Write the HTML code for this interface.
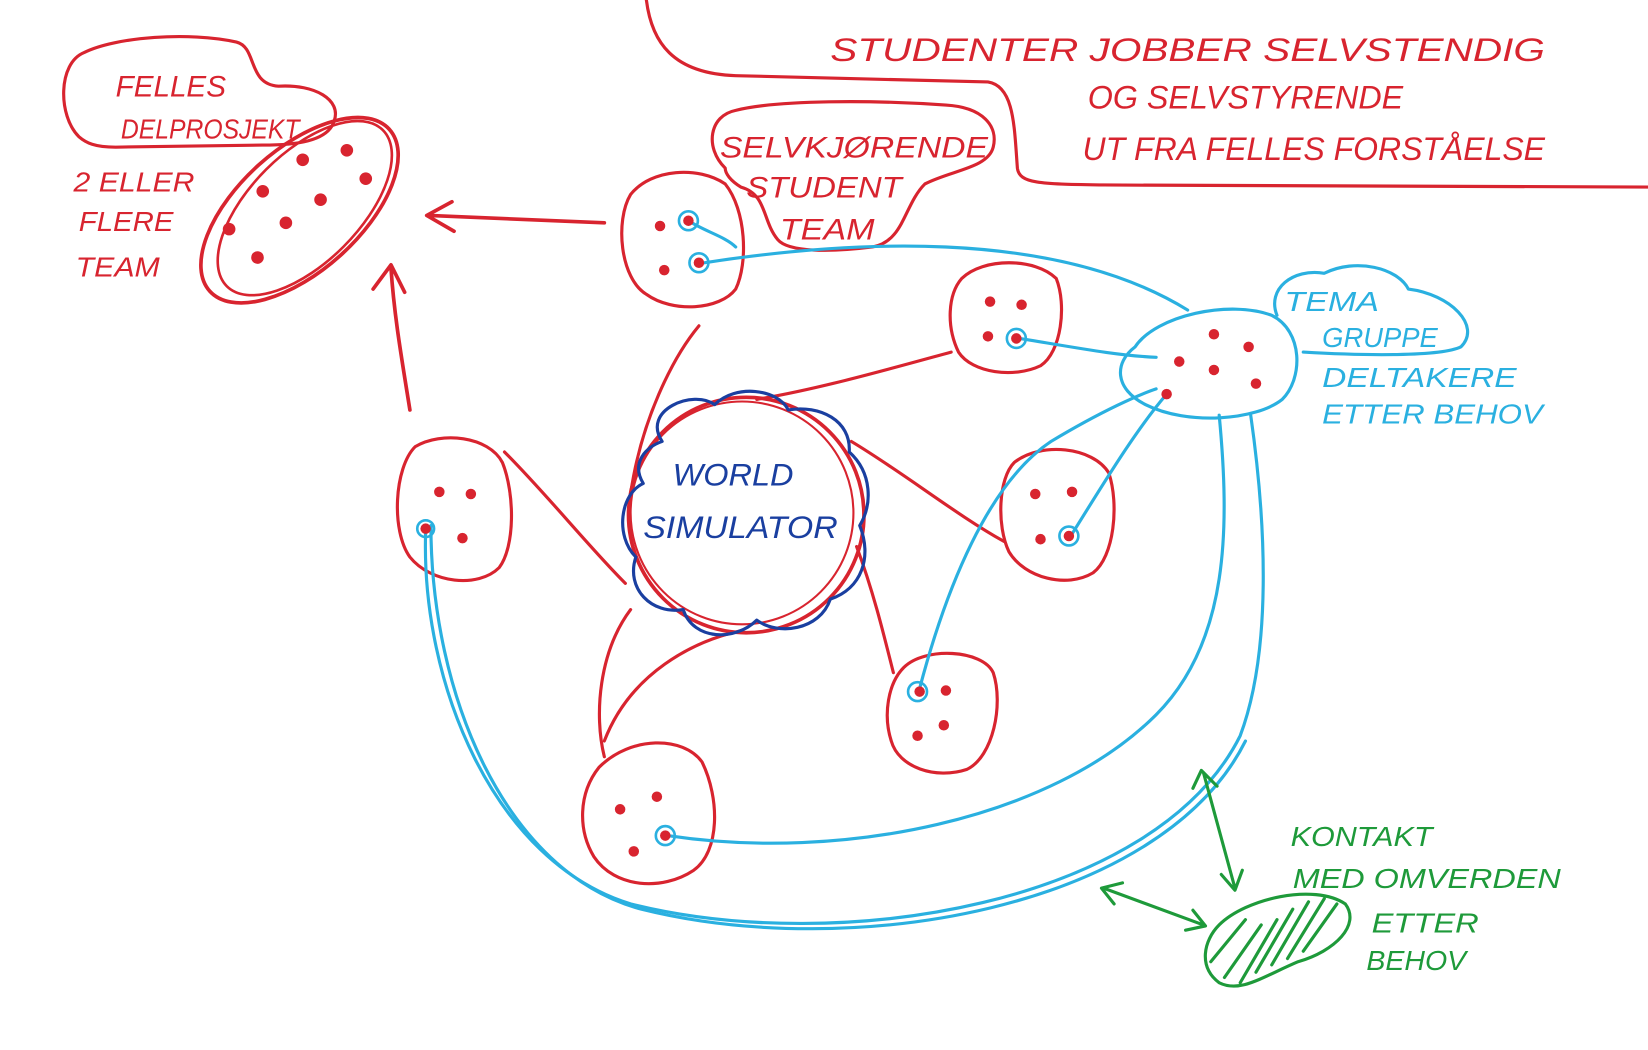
<!DOCTYPE html>
<html><head><meta charset="utf-8"><style>
html,body{margin:0;padding:0;background:#fff;}
svg{display:block;}
text{font-family:"Liberation Sans",sans-serif;font-style:italic;}
</style></head><body>
<svg width="1648" height="1050" viewBox="0 0 1568 999" preserveAspectRatio="none" xmlns="http://www.w3.org/2000/svg">
<rect width="1568" height="999" fill="#fff"/>
<g fill="none" stroke-linecap="round" stroke-linejoin="round">
<!-- top red frame line -->
<path d="M615,0 C620,40 640,70 700,72 L940,78 C965,82 965,120 968,160 C970,175 990,175 1050,176 L1568,178" stroke="#d8242f" stroke-width="3"/>
<!-- felles delprosjekt bubble -->
<path d="M75,130 C55,110 55,60 80,50 C110,35 180,30 225,40 C245,45 235,80 265,82 C300,80 325,95 318,115 C312,135 280,138 250,138 L110,140 C90,140 82,136 75,130 Z" stroke="#d8242f" stroke-width="3"/>
<!-- oval -->
<ellipse cx="285" cy="200" rx="115" ry="58" transform="rotate(-42 285 200)" stroke="#d8242f" stroke-width="3.5"/>
<ellipse cx="290" cy="198" rx="105" ry="52" transform="rotate(-45 290 198)" stroke="#d8242f" stroke-width="2.5"/>
<!-- arrows -->
<path d="M575,212 L408,205 M430,192 L406,205 L432,220" stroke="#d8242f" stroke-width="3.5"/>
<path d="M390,390 C382,340 375,300 372,255 M355,275 L372,252 L385,278" stroke="#d8242f" stroke-width="3.5"/>
<!-- red connectors -->
<g stroke="#d8242f" stroke-width="3">
<path d="M600,470 C610,400 640,340 665,310"/>
<path d="M720,380 C780,370 850,350 905,335"/>
<path d="M810,420 C860,450 910,490 955,515"/>
<path d="M815,520 C830,560 840,600 850,640"/>
<path d="M600,580 C570,620 565,680 575,720"/>
<path d="M595,555 C560,520 520,470 480,430"/>
<path d="M705,600 C660,610 600,640 575,705"/>
</g>
<!-- world simulator -->
<circle cx="710" cy="490" r="112" stroke="#d8242f" stroke-width="3.5"/>
<circle cx="706" cy="488" r="106" stroke="#d8242f" stroke-width="2"/>
<path d="M630,420 C610,390 660,370 680,385 C700,365 740,370 750,390 C780,385 810,400 808,430 C830,450 830,480 818,500 C830,530 820,560 790,570 C780,600 740,605 720,590 C700,610 660,610 650,580 C620,585 595,560 605,530 C585,510 590,470 612,460 C600,440 615,425 630,420 Z" stroke="#1a3fa0" stroke-width="3"/>
<!-- team blobs -->
<g stroke="#d8242f" stroke-width="3">
<path d="M600,185 C620,160 665,158 690,175 C710,200 712,250 700,275 C685,295 640,298 615,280 C590,265 585,210 600,185 Z"/>
<path d="M915,265 C935,245 985,245 1005,265 C1015,290 1010,335 990,348 C965,360 925,355 912,335 C900,310 902,280 915,265 Z"/>
<path d="M395,425 C420,410 465,415 478,440 C490,470 490,520 475,540 C455,560 410,555 390,530 C372,505 375,445 395,425 Z"/>
<path d="M965,440 C990,420 1040,425 1055,450 C1065,480 1060,530 1040,545 C1015,560 975,550 960,525 C948,500 950,455 965,440 Z"/>
<path d="M860,635 C880,615 935,618 945,640 C955,670 945,720 920,732 C890,742 855,730 848,705 C840,680 845,650 860,635 Z"/>
<path d="M570,730 C600,700 650,700 668,725 C685,760 685,810 660,828 C630,848 585,845 565,815 C550,790 550,755 570,730 Z"/>
</g>
<!-- selvkjørende cloud -->
<path d="M690,160 C670,140 675,110 700,105 C740,95 830,95 900,100 C935,102 950,120 945,140 C940,160 905,162 880,175 C860,195 860,230 830,235 C790,240 750,240 740,228 C725,210 730,185 705,178 C695,172 690,165 690,160 Z" stroke="#d8242f" stroke-width="3"/>
<!-- tema gruppe blob -->
<path d="M1080,330 C1100,300 1170,285 1210,300 C1240,315 1240,360 1220,380 C1195,400 1130,405 1090,385 C1060,370 1060,345 1080,330 Z" stroke="#2ab0e0" stroke-width="3"/>
<path d="M1215,300 C1205,275 1230,255 1260,260 C1290,245 1330,255 1340,275 C1380,280 1410,310 1390,330 C1370,340 1290,338 1240,335" stroke="#2ab0e0" stroke-width="3"/>
<!-- blue connectors -->
<g stroke="#2ab0e0" stroke-width="3">
<path d="M655,210 C670,220 690,225 700,235"/>
<path d="M670,250 C800,230 1000,215 1130,295"/>
<path d="M970,322 C1020,330 1060,338 1100,340"/>
<path d="M1020,508 C1050,460 1080,410 1110,375"/>
<path d="M875,655 C900,560 940,460 1000,420 C1050,390 1085,375 1100,370"/>
<path d="M635,795 C800,820 1000,780 1100,680 C1170,610 1170,500 1160,395"/>
<path d="M405,505 C400,650 470,820 600,860 C800,910 1100,860 1180,700 C1210,620 1205,500 1190,395"/>
<path d="M410,500 C410,660 480,830 610,865 C810,915 1105,865 1185,705"/>
</g>
<g stroke="#2ab0e0" stroke-width="2.5">
<circle cx="655" cy="210" r="9"/><circle cx="665" cy="250" r="9"/><circle cx="967" cy="322" r="9"/>
<circle cx="405" cy="503" r="8"/><circle cx="1017" cy="510" r="9"/><circle cx="873" cy="658" r="9"/><circle cx="633" cy="795" r="9"/>
</g>
<!-- green -->
<g stroke="#1e9a3a" stroke-width="3">
<path d="M1145,735 L1175,845 M1135,750 L1143,733 L1158,748 M1162,832 L1175,847 L1182,828"/>
<path d="M1050,845 L1145,880 M1060,860 L1048,845 L1068,840 M1128,885 L1147,881 L1135,866"/>
<path d="M1160,880 C1185,855 1250,840 1280,860 C1295,880 1270,905 1235,915 C1200,930 1180,945 1160,935 C1140,920 1145,895 1160,880 Z"/>
<path d="M1165,930 L1200,880 M1180,935 L1215,875 M1195,925 L1230,865 M1210,918 L1245,858 M1225,912 L1260,855 M1240,905 L1272,860 M1152,915 L1185,875"/>
</g>
</g>
<!-- red dots -->
<g fill="#d8242f">
<circle cx="250" cy="182" r="6"/><circle cx="288" cy="152" r="6"/><circle cx="330" cy="143" r="6"/><circle cx="218" cy="218" r="6"/><circle cx="272" cy="212" r="6"/><circle cx="305" cy="190" r="6"/><circle cx="348" cy="170" r="6"/><circle cx="245" cy="245" r="6"/>
<circle cx="628" cy="215" r="5"/><circle cx="655" cy="210" r="5"/><circle cx="632" cy="257" r="5"/><circle cx="665" cy="250" r="5"/>
<circle cx="942" cy="287" r="5"/><circle cx="972" cy="290" r="5"/><circle cx="940" cy="320" r="5"/><circle cx="967" cy="322" r="5"/>
<circle cx="418" cy="468" r="5"/><circle cx="448" cy="470" r="5"/><circle cx="405" cy="503" r="5"/><circle cx="440" cy="512" r="5"/>
<circle cx="985" cy="470" r="5"/><circle cx="1020" cy="468" r="5"/><circle cx="990" cy="513" r="5"/><circle cx="1017" cy="510" r="5"/>
<circle cx="875" cy="658" r="5"/><circle cx="900" cy="657" r="5"/><circle cx="873" cy="700" r="5"/><circle cx="898" cy="690" r="5"/>
<circle cx="590" cy="770" r="5"/><circle cx="625" cy="758" r="5"/><circle cx="603" cy="810" r="5"/><circle cx="633" cy="795" r="5"/>
<circle cx="1155" cy="318" r="5"/><circle cx="1188" cy="330" r="5"/><circle cx="1122" cy="344" r="5"/><circle cx="1155" cy="352" r="5"/><circle cx="1195" cy="365" r="5"/><circle cx="1110" cy="375" r="5"/>
</g>
<!-- texts -->
<g fill="#d8242f" font-size="31">
<text x="790" y="58" textLength="680" lengthAdjust="spacingAndGlyphs">STUDENTER  JOBBER SELVSTENDIG</text>
<text x="1035" y="103" textLength="300" lengthAdjust="spacingAndGlyphs">OG  SELVSTYRENDE</text>
<text x="1030" y="152" textLength="440" lengthAdjust="spacingAndGlyphs">UT FRA FELLES FORSTÅELSE</text>
<text x="110" y="92" font-size="28" textLength="105" lengthAdjust="spacingAndGlyphs">FELLES</text>
<text x="115" y="132" font-size="26" textLength="170" lengthAdjust="spacingAndGlyphs">DELPROSJEKT</text>
<text x="70" y="182" font-size="26" textLength="115" lengthAdjust="spacingAndGlyphs">2 ELLER</text>
<text x="75" y="220" font-size="26" textLength="90" lengthAdjust="spacingAndGlyphs">FLERE</text>
<text x="72" y="263" font-size="26" textLength="80" lengthAdjust="spacingAndGlyphs">TEAM</text>
<text x="685" y="150" font-size="28" textLength="255" lengthAdjust="spacingAndGlyphs">SELVKJØRENDE</text>
<text x="710" y="188" font-size="28" textLength="148" lengthAdjust="spacingAndGlyphs">STUDENT</text>
<text x="742" y="228" font-size="28" textLength="90" lengthAdjust="spacingAndGlyphs">TEAM</text>
</g>
<g fill="#1a3fa0" font-size="30">
<text x="640" y="462" textLength="115" lengthAdjust="spacingAndGlyphs">WORLD</text>
<text x="612" y="512" textLength="185" lengthAdjust="spacingAndGlyphs">SIMULATOR</text>
</g>
<g fill="#2ab0e0" font-size="26">
<text x="1222" y="296" textLength="90" lengthAdjust="spacingAndGlyphs">TEMA</text>
<text x="1258" y="330" textLength="110" lengthAdjust="spacingAndGlyphs">GRUPPE</text>
<text x="1258" y="368" textLength="185" lengthAdjust="spacingAndGlyphs">DELTAKERE</text>
<text x="1258" y="403" textLength="210" lengthAdjust="spacingAndGlyphs">ETTER BEHOV</text>
</g>
<g fill="#1e9a3a" font-size="26">
<text x="1228" y="805" textLength="135" lengthAdjust="spacingAndGlyphs">KONTAKT</text>
<text x="1230" y="845" textLength="255" lengthAdjust="spacingAndGlyphs">MED OMVERDEN</text>
<text x="1305" y="887" textLength="102" lengthAdjust="spacingAndGlyphs">ETTER</text>
<text x="1300" y="923" textLength="95" lengthAdjust="spacingAndGlyphs">BEHOV</text>
</g>
</svg>
</body></html>
